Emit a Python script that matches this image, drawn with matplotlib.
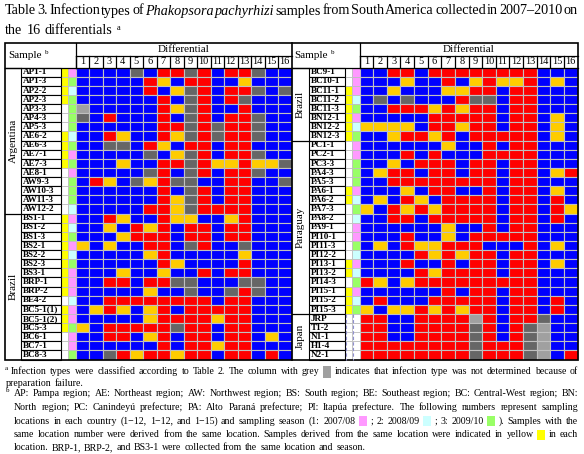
import matplotlib.pyplot as plt
from matplotlib.patches import Rectangle

# ---- data -------------------------------------------------------------
# infection type codes: B blue, R red, Y yellow, G grey, L light grey
left_samples = ["AP1-1", "AP1-3", "AP2-2", "AP2-3", "AP3-3", "AP4-3", "AP5-3",
                "AE6-2", "AE6-3", "AE7-1", "AE7-3", "AE8-1", "AW9-3", "AW10-3",
                "AW11-3", "AW12-2",
                "BS1-1", "BS1-2", "BS1-3", "BS2-1", "BS2-2", "BS2-3", "BS3-1",
                "BRP-1", "BRP-2", "BE4-2", "BC5-1(1)", "BC5-1(2)", "BC5-3",
                "BC6-1", "BC7-1", "BC8-3"]
left_countries = [("Argentina", 16), ("Brazil", 16)]
left_location = "1111000111100000" + "1111111110111000"
left_season = "1323333231313332" + "1231231112113113"
left_types = [
    "BBBBGBRRGRBRRGBB",
    "BBBBBRYBRRBBYBBB",
    "BBBBBRBYGRBRRGBG",
    "BBBBBBRBGRBRGBBB",
    "LBBBBBRYGRBBRBBB",
    "GBRBBBRBGRBRRGBB",
    "BBBBBBRRGRGRRGBB",
    "BBRYBBRYGRGRRGBB",
    "BBGGBRYBRRBRRBBB",
    "BBBBBGBYGRBRRGBB",
    "BBBYBBRRGRYYRYYG",
    "BBBBBGRBGRBRRGBB",
    "BRYBGYRGGBBRRBBG",
    "BBBBBBRBGRBRRBBB",
    "BBBBBBRYGRBRRBBB",
    "BBBBBRRYGRRRRBBB",
    "BBRYBBRYYBBYRBBB",
    "BBYBRYRBRRBRRBBB",
    "BBBYRRRBRRBRRBBB",
    "YBYBBRRBGRBBGBBB",
    "BBBBBYRBBBBBYBBB",
    "BBBBBBRYBBBBRBBB",
    "BBBYBBYBBRBRRBBB",
    "BBRRBRRGGBBBGGBB",
    "BBBBBYBBGBBGRGBB",
    "BBRRRRRRRRBRRBBB",
    "BYRYBYRBRRRRRBBB",
    "BBBBBYRRRRYRRBBB",
    "YBRRRRRGRRBRRBBB",
    "BBRRBYRBRRBRRBYB",
    "BBBBBBRBRRYRRBBB",
    "BBGRYRRYRRBRRBRB",
]

right_samples = ["BC9-1", "BC10-1", "BC11-1", "BC11-2", "BC11-3", "BN12-1",
                 "BN12-2", "BN12-3",
                 "PC1-1", "PC2-1", "PC3-3", "PA4-3", "PA5-3", "PA6-1", "PA6-2",
                 "PA7-3", "PA8-2", "PA9-1", "PI10-1", "PI11-3", "PI12-2",
                 "PI13-1", "PI13-2", "PI14-3", "PI15-1", "PI15-2", "PI15-3",
                 "JRP", "T1-2", "N1-1", "H1-4", "N2-1"]
right_countries = [("Brazil", 8), ("Paraguay", 19), ("Japan", 5)]
right_location = "00111111" + "0000011000000110111" + "00000"
right_season = "11123123" + "1133312321132123123" + "00000"
right_types = [
    "BBRRBRRRRRRRRBBB",
    "BBBYBBRBYRYYRBYB",
    "BBYBBBYYRRBRRBBB",
    "BGBGBBBRGGBRRBBB",
    "BBRRRYRYRRBRRBBB",
    "BBBBBRRRRRBRRBYB",
    "YYYYBRRYRRBRRBYB",
    "BBYRRYRBRRRRRBYB",
    "BBBBBBYBBRBRRBBB",
    "BBBRBRBBBRRRRBBB",
    "BBYBRRRBRRBRRBBB",
    "BYRRBRRBRRBRRBYR",
    "BBRRRRRRRRBRRBBB",
    "BBBYBRRBBRBRRBYB",
    "BYBRYBRRRRBRRBRB",
    "YBRYRYRRRRBRRBRY",
    "BBRRBRRRRRBRRBRB",
    "BBBBBBYBBRBRRBBB",
    "BBBRBBYBRRRRRBBB",
    "BYBRYYRRRBBBRBYB",
    "BBBBRYRYRRBRRBBB",
    "BBBRBBRBRRBRRBYB",
    "BBBBRYRRRRBRRBBB",
    "RYBYRRRRRRRRRBBB",
    "BBBBBBRBRRBRRBBB",
    "BRBBBRRRRRBRRBRB",
    "YBYYRYRYRRBRRBRB",
    "RRBBRRRRLRBRRGBB",
    "RRBBRRRRGRBRGLBB",
    "RRBBRRRRGRBRGLBB",
    "RRRRRRRRGRRRGLBB",
    "RRRRRRRRGRRRGLBR",
]
differentials = [str(i) for i in range(1, 17)]

type_colors = {"B": "#0000ff", "R": "#ff0000", "Y": "#ffcc00",
               "G": "#666666", "L": "#a0a0a0"}
season_colors = {"1": "#ff99ff", "2": "#ccffff", "3": "#99ff66", "0": "white"}
loc_color = "#ffff00"
cell_edge = "#c0c0c0"

title_lines = [
    "Table 3. Infection types of *Phakopsora* *pachyrhizi* samples from South America "
    "collected in 2007\u20132010 on",
    "the 16 differentials",
]
note_a = [
    "Infection types were classified according to Table 2. The column with grey "
    "[#a0a0a0] indicates that infection type was not determined because of",
    "preparation failure.",
]
note_b = [
    "AP: Pampa region; AE: Northeast region; AW: Northwest region; BS: South region; "
    "BE: Southeast region; BC: Central-West region; BN:",
    "North region; PC: Canindey\u00fa prefecture; PA: Alto Paran\u00e1 prefecture; "
    "PI: Itap\u00faa prefecture. The following numbers represent sampling",
    "locations in each country (1\u221212, 1\u221212, and 1\u221215) and sampling season "
    "(1: 2007/08 [#ff99ff] ; 2: 2008/09 [#ccffff] ; 3: 2009/10 [#99ff66] ). Samples with the",
    "same location number were derived from the same location. Samples derived from "
    "the same location were indicated in yellow [#ffff00] in each",
    "location. BRP-1, BRP-2, and BS3-1 were collected from the same location and season.",
]

plt.rcParams['font.family'] = ['Liberation Serif', 'DejaVu Serif']

fig = plt.figure(figsize=(5.84, 4.54), dpi=100)
ax = fig.add_axes([0, 0, 1, 1])
ax.set_xlim(0, 584)
ax.set_ylim(454, 0)
ax.axis('off')
renderer = fig.canvas.get_renderer()


def width(t):
    return t.get_window_extent(renderer).width


def set_line(y, x0, x1, line, fs, justify=True, box_h=11):
    items = []
    for tok in line.split():
        if tok.startswith('['):
            items.append((None, tok[1:-1], 8))
        else:
            italic = tok.startswith('*')
            t = ax.text(0, y, tok.strip('*'), fontsize=fs, va='center',
                        style='italic' if italic else 'normal')
            items.append((t, None, width(t)))
    total = sum(w for _, _, w in items)
    gap = fs * 100 / 72 * 0.3
    if justify and len(items) > 1:
        gap = (x1 - x0 - total) / (len(items) - 1)
    x = x0
    for t, c, w in items:
        if t is None:
            ax.add_patch(Rectangle((x, y - box_h / 2), w, box_h,
                                   facecolor=c, edgecolor='none'))
        else:
            t.set_x(x)
        x += w + gap
    return x - gap


top, mid, body = 42.5, 55.5, 67.5
row_h = (359.5 - body) / 32
fs_lab = 6.6


def draw_half(x0, x_name, x_loc, x_sea, x_diff, x_end, samples, countries,
              location, season, types):
    cw = (x_end - x_diff) / 16
    # header
    t = ax.text(x0 + 3, (top + body) / 2 + 1, "Sample", fontsize=8, va='center')
    ax.text(x0 + 3 + width(t) + 3, (top + body) / 2 - 2, "b", fontsize=5, va='center')
    ax.text((x_diff + x_end) / 2, (top + mid) / 2 + 0.5, "Differential",
            fontsize=8, ha='center', va='center')
    ax.plot([x_diff, x_end], [mid, mid], color='black', lw=0.9)
    for j, d in enumerate(differentials):
        ax.text(x_diff + (j + 0.5) * cw, (mid + body) / 2 + 0.5, d,
                fontsize=7.5, ha='center', va='center')
        ax.plot([x_diff + j * cw] * 2, [mid, body], color='black', lw=0.9)
    ax.plot([x_diff, x_diff], [top, body], color='black', lw=0.9)

    for i, name in enumerate(samples):
        y = body + i * row_h
        for j, code in enumerate(types[i]):
            ax.add_patch(Rectangle((x_diff + j * cw, y), cw, row_h,
                                   facecolor=type_colors[code], edgecolor=cell_edge,
                                   lw=0.8))
        ax.add_patch(Rectangle((x_loc, y), x_sea - x_loc, row_h,
                               facecolor=loc_color if location[i] == "1" else "white",
                               edgecolor=cell_edge, lw=0.6))
        ax.add_patch(Rectangle((x_sea, y), x_diff - x_sea, row_h,
                               facecolor=season_colors[season[i]],
                               edgecolor=cell_edge, lw=0.6))
        ax.add_patch(Rectangle((x_name, y), x_loc - x_name, row_h,
                               facecolor='white', edgecolor='black', lw=0.8))
        ax.text(x_name + 1.5, y + row_h / 2 + 0.3, name, fontsize=fs_lab,
                ha='left', va='center', fontweight='bold')

    start = 0
    for country, n in countries:
        y0 = body + start * row_h
        ax.plot([x0, x_name], [y0, y0], color='black', lw=0.9)
        ax.text((x0 + x_name) / 2, y0 + n * row_h / 2, country, fontsize=8,
                rotation=90, ha='center', va='center')
        if season[start] == "0":
            for xd in (x_loc + 1, x_sea + 1):
                ax.plot([xd, xd], [y0, y0 + n * row_h], color='#9090d0',
                        lw=0.8, ls=(0, (3, 2)))
        start += n

    ax.plot([x0, x_end], [body, body], color='black', lw=0.9)


draw_half(5, 21, 61, 68, 75.5, 291.5, left_samples, left_countries,
          left_location, left_season, left_types)
draw_half(291.5, 309, 345, 352, 359.5, 577.5, right_samples, right_countries,
          right_location, right_season, right_types)
ax.add_patch(Rectangle((5, top), 572.5, 359.5 - top, facecolor='none',
                       edgecolor='black', lw=1.2))
ax.plot([291.5, 291.5], [top, 359.5], color='black', lw=1.2)

# ---- title ------------------------------------------------------------
tfs = 10.2
set_line(11, 5, 578, title_lines[0], tfs)
end = set_line(30, 5, 578, title_lines[1], tfs, justify=False)
ax.text(end + 4, 27.5, "a", fontsize=6, va='center')

# ---- footnotes --------------------------------------------------------
ffs = 7.1
ax.text(5, 368, "a", fontsize=5, va='center')
set_line(372, 11, 578, note_a[0], ffs, box_h=12)
set_line(384, 6, 578, note_a[1], ffs, justify=False)

ax.text(6, 390, "b", fontsize=5, va='center')
fn_y = [394, 407.5, 421, 434.5, 448]
for k, line in enumerate(note_b):
    set_line(fn_y[k], 14, 578, line, ffs, justify=k < len(note_b) - 1, box_h=10)

fig.savefig("out.png", dpi=100)
